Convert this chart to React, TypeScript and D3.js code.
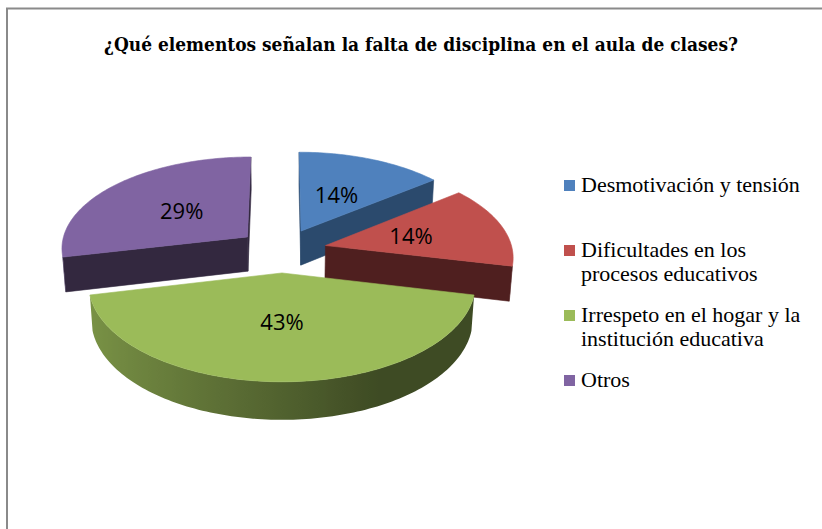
import React from "react";
import * as d3 from "d3";

// ---- data ----
const categories = [
  "Desmotivación y tensión",
  "Dificultades en los procesos educativos",
  "Irrespeto en el hogar y la institución educativa",
  "Otros",
];
const legendLines = [
  ["Desmotivación y tensión"],
  ["Dificultades en los", "procesos educativos"],
  ["Irrespeto en el hogar y la", "institución educativa"],
  ["Otros"],
];
const values = [1, 1, 3, 2];
const title = "¿Qué elementos señalan la falta de disciplina en el aula de clases?";

// ---- styles ----
const topColors = ["#4f81bd", "#c0504d", "#9bbb59", "#8064a2"];
const sideDark = ["#2b4a6d", "#4f1f1f", "#3d4b22", "#33283f"];

// ---- 3D projection settings ----
const ALPHA = (29.3 * Math.PI) / 180;
const SIN_A = Math.sin(ALPHA);
const COS_A = Math.cos(ALPHA);
const DC = 7.93;
const FOC = 1483;
const CX = 282;
const CY = 250.4;
const R = 1;
const EXPLODE = 0.24;
const THICK = 0.215;
const CAM = [0, DC * COS_A, DC * SIN_A];

type P3 = [number, number, number];

function project(p: P3): [number, number] {
  const depth = DC - p[1] * COS_A - p[2] * SIN_A;
  return [CX + (FOC * p[0]) / depth, CY + (FOC * (p[1] * SIN_A - p[2] * COS_A)) / depth];
}
function depthOf(p: P3) {
  return DC - p[1] * COS_A - p[2] * SIN_A;
}
function visible(n: P3, p: P3) {
  return n[0] * (CAM[0] - p[0]) + n[1] * (CAM[1] - p[1]) + n[2] * (CAM[2] - p[2]) > 0;
}

const lineGen = d3.line<[number, number]>();

type Stop = { off: number; color: string };
type Face = { d: string; fill: string; grad?: { id: string; x1: number; x2: number; stops: Stop[] } };

export default function App() {
  const W = 822;
  const H = 529;
  const total = d3.sum(values);
  const pie = d3.pie<number>().sort(null).startAngle(0).endAngle(2 * Math.PI);
  const arcs = pie(values);

  const slices = arcs.map((a, i) => {
    const a0 = a.startAngle;
    const a1 = a.endAngle;
    const m = (a0 + a1) / 2;
    const ox = EXPLODE * Math.sin(m);
    const oy = -EXPLODE * Math.cos(m);
    const pt = (th: number, r: number, z: number): P3 => [ox + r * Math.sin(th), oy - r * Math.cos(th), z];
    const n = Math.max(4, Math.ceil((a1 - a0) / ((1.2 * Math.PI) / 180)));
    const angles = d3.range(n + 1).map((k) => a0 + ((a1 - a0) * k) / n);
    const faces: Face[] = [];
    const base = d3.color(topColors[i])!.rgb();
    const light = d3.rgb(base.r * 0.79, base.g * 0.79, base.b * 0.79);
    const dark = d3.rgb(base.r * 0.4, base.g * 0.4, base.b * 0.4);
    const grad = d3.interpolateRgb(light, dark);

    // radial faces
    const radial = (th: number, sign: number) => {
      const nrm: P3 = [sign * Math.cos(th), sign * Math.sin(th), 0];
      const c: P3 = pt(th, 0, 0);
      if (!visible(nrm, c)) return;
      const pts = [pt(th, 0, 0), pt(th, R, 0), pt(th, R, -THICK), pt(th, 0, -THICK)].map(project);
      faces.push({ d: lineGen(pts) + "Z", fill: sideDark[i] });
    };
    radial(a0, -1);
    radial(a1, 1);

    // curved outer side: visible angles, as one path with a horizontal gradient
    const visAngles = angles.filter((th) => visible([Math.sin(th), -Math.cos(th), 0], pt(th, R, 0)));
    if (visAngles.length >= 2) {
      const topArc = visAngles.map((th) => project(pt(th, R, 0)));
      const botArc = visAngles.map((th) => project(pt(th, R, -THICK))).reverse();
      const xs = topArc.map((p) => p[0]);
      const xMin = d3.min(xs)!;
      const xMax = d3.max(xs)!;
      const span = Math.max(1, xMax - xMin);
      const stops: Stop[] = visAngles
        .map((th, k) => {
          const tt = Math.max(0, Math.min(1, (Math.sin(th) + 1) / 1.45));
          return { off: (xs[k] - xMin) / span, color: grad(tt) };
        })
        .sort((p, q) => p.off - q.off);
      faces.push({
        d: lineGen([...topArc, ...botArc]) + "Z",
        fill: `url(#side${i})`,
        grad: { id: `side${i}`, x1: xMin, x2: xMax, stops },
      });
    }

    // top face
    const topPts = [pt(0, 0, 0), ...angles.map((th) => pt(th, R, 0))].map(project);
    faces.push({ d: lineGen(topPts) + "Z", fill: topColors[i] });

    const centroid = pt(m, 0.55, 0);
    const labelPos = project(pt(m, 0.48, 0));
    return {
      i,
      faces,
      depth: depthOf(centroid),
      labelPos,
      label: `${Math.round((values[i] / total) * 100)}%`,
    };
  });

  const ordered = [...slices].sort((p, q) => q.depth - p.depth);
  const grads = slices.flatMap((s) => s.faces.filter((f) => f.grad).map((f) => f.grad!));

  const legendX = 564;
  const legendTop = 192;
  const legendStep = 65;
  const lineH = 23.5;

  return (
    <svg
      width={W}
      height={H}
      viewBox={`0 0 ${W} ${H}`}
      style={{ position: "absolute", left: 0, top: 0, background: "#fff" }}
    >
      <defs>
        {grads.map((g) => (
          <linearGradient key={g.id} id={g.id} gradientUnits="userSpaceOnUse" x1={g.x1} y1={0} x2={g.x2} y2={0}>
            {g.stops.map((s, k) => (
              <stop key={k} offset={s.off} stopColor={s.color} />
            ))}
          </linearGradient>
        ))}
      </defs>
      <rect x={0} y={0} width={W} height={H} fill="#fff" />
      <rect x={7} y={8.5} width={W + 20} height={H + 20} fill="none" stroke="#8a8a8a" strokeWidth={2} />
      <text
        x={421}
        y={51}
        textAnchor="middle"
        fontFamily="DejaVu Serif"
        fontWeight="bold"
        fontSize={18}
        textLength={634}
        lengthAdjust="spacingAndGlyphs"
        fill="#000"
      >
        {title}
      </text>

      {ordered.map((s) => (
        <g key={"s" + s.i}>
          {s.faces.map((f, j) => (
            <path key={j} d={f.d} fill={f.fill} stroke={f.grad ? "none" : f.fill} strokeWidth={0.6} strokeLinejoin="round" />
          ))}
        </g>
      ))}

      {slices.map((s) => (
        <text
          key={"l" + s.i}
          x={s.labelPos[0]}
          y={s.labelPos[1] + 8}
          textAnchor="middle"
          fontFamily="'Open Sans', 'Noto Sans', sans-serif"
          fontSize={22}
          fill="#000"
        >
          {s.label}
        </text>
      ))}

      {categories.map((c, i) => {
        const by = legendTop + i * legendStep;
        return (
          <g key={"lg" + i}>
            <rect x={legendX} y={by - 12} width={11} height={11} fill={topColors[i]} />
            <text x={legendX + 17} y={by} fontFamily="'Liberation Serif', 'Times New Roman', serif" fontSize={22} fill="#000">
              {legendLines[i].map((ln, k) => (
                <tspan key={k} x={legendX + 17} y={by + k * lineH}>
                  {ln}
                </tspan>
              ))}
            </text>
          </g>
        );
      })}
    </svg>
  );
}
